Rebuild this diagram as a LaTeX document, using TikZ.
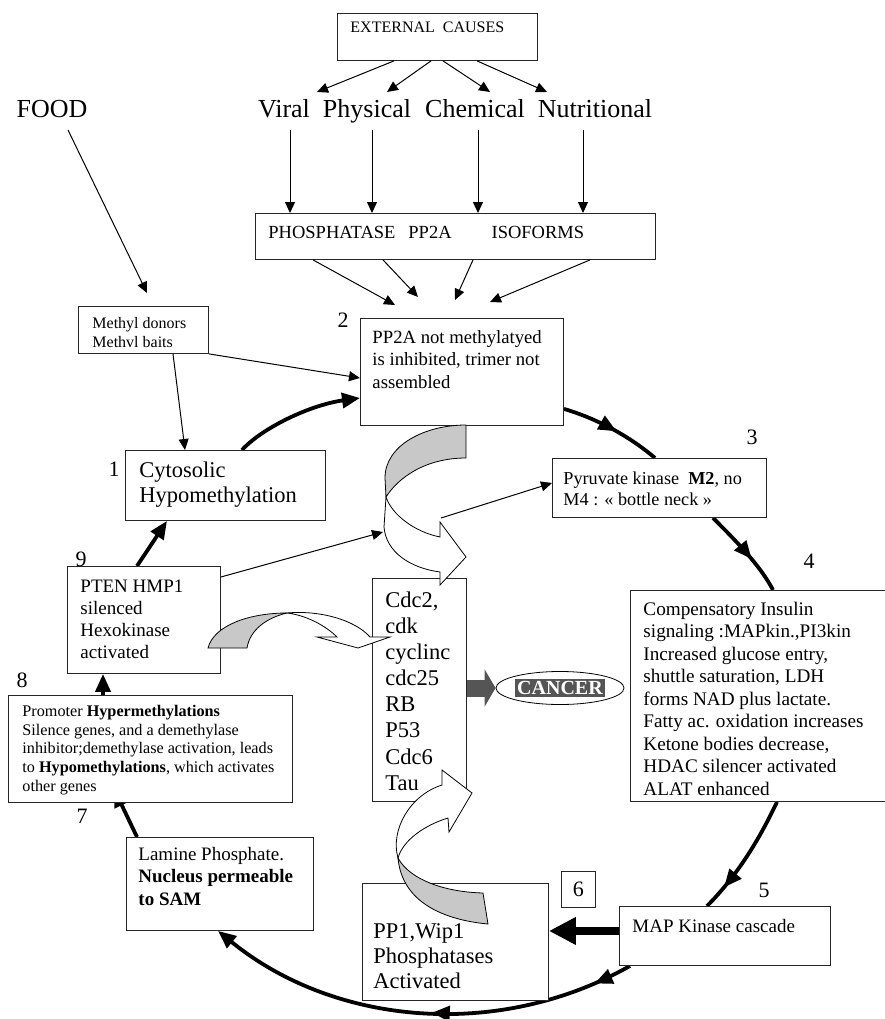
\documentclass[tikz,border=0pt]{standalone}
\usepackage{fontspec}
\setmainfont{Liberation Serif}
\usetikzlibrary{arrows.meta, shapes.geometric, decorations.markings, backgrounds}
\definecolor{ribbongray}{RGB}{200,200,200}
\definecolor{cancergray}{RGB}{85,85,85}
% text block of a box: width, height, first baseline, lines
\newcommand{\celltext}[4]{\parbox[t][#2][t]{#1}{\raggedright\rule{0pt}{#3}#4}}

\begin{document}
\begin{tikzpicture}[x=1pt, y=-1pt,
    box/.style={draw=black!85, line width=0.9pt, fill=white, inner xsep=#1, inner ysep=0pt, anchor=north west},
    box/.default=12pt,
    num/.style={font={\fontsize{22}{22}\selectfont}, inner sep=0pt},
    cause/.style={font={\fontsize{26}{26}\selectfont}, inner sep=0pt, anchor=base},
    thinarr/.style={line width=1pt, -{Triangle[length=11pt,width=10pt]}},
    cyc/.style={line width=3.8pt},
    cycarr/.style={cyc, -{Triangle[length=18pt,width=15pt]}},
    midarr/.style={postaction={decorate, decoration={markings, mark=at position #1 with {\arrow{Triangle[length=18pt,width=15pt]}}}}},
    ribbon/.style={draw=black, line width=0.8pt}]
    \useasboundingbox (0,0) rectangle (884,1019);

    % External causes and the four kinds
    \node[box=13pt, font={\fontsize{16}{18}\selectfont}] (ext) at (337,13) {\celltext{174pt}{47pt}{19pt}{EXTERNAL\ \ CAUSES}};
    \node[cause] (viral) at (284,118) {Viral};
    \node[cause] (physical) at (367,118) {Physical};
    \node[cause] (chemical) at (475,118) {Chemical};
    \node[cause] (nutritional) at (595,118) {Nutritional};
    \node[cause] (food) at (52,118) {FOOD};
    \foreach \sx/\lab/\ex in {57/viral/33, 94/physical/20, 106/chemical/15, 140/nutritional/-48}
        \draw[thinarr] ([xshift=\sx pt]ext.south west) -- ([xshift=\ex pt, yshift=26pt]\lab.base);

    % Phosphatase isoforms
    \node[box=13pt, font={\fontsize{18.5}{20}\selectfont}] (phos) at (255,213) {\celltext{374pt}{46pt}{25pt}{PHOSPHATASE\hspace{13pt}PP2A\hspace{40pt}ISOFORMS}};
    \foreach \lab/\dx/\px in {viral/6/35, physical/5/117, chemical/3/223, nutritional/-12/328}
        \draw[thinarr] ([xshift=\dx pt, yshift=-12pt]\lab.base) -- ([xshift=\px pt]phos.north west);

    % The cycle boxes
    \node[box=12pt, font={\fontsize{18.7}{22.5}\selectfont}] (pp2a) at (360,318) {\celltext{179pt}{107pt}{25pt}{PP2A not methylatyed\\is inhibited, trimer not\\assembled}};
    \node[box=11pt, font={\fontsize{18.2}{21}\selectfont}] (pyr) at (552,458) {\celltext{192pt}{59pt}{26pt}{Pyruvate kinase\ \ \textbf{M2}, no\\M4 : « bottle neck »}};
    \node[box=13pt, font={\fontsize{19.2}{22.5}\selectfont}] (comp) at (630,590) {\celltext{236pt}{211pt}{25pt}{Compensatory Insulin\\signaling :MAPkin.,PI3kin\\Increased glucose entry,\\shuttle saturation, LDH\\forms NAD plus lactate.\\Fatty ac. oxidation increases\\Ketone bodies decrease,\\HDAC silencer activated\\ALAT enhanced}};
    \node[box=13pt, font={\fontsize{19}{22}\selectfont}] (map) at (619,906) {\celltext{185pt}{59pt}{26pt}{MAP Kinase cascade}};
    \node[box=11pt, font={\fontsize{22.5}{25}\selectfont}] (pp1) at (362,883) {\celltext{164pt}{117pt}{55pt}{PP1,Wip1\\Phosphatases\\Activated}};
    \node[box=12pt, font={\fontsize{19}{22.5}\selectfont}] (lamine) at (126,837) {\celltext{163pt}{93pt}{23pt}{Lamine Phosphate.\\\textbf{Nucleus permeable}\\\textbf{to SAM}}};
    \node[box=14pt, font={\fontsize{16.2}{18.7}\selectfont}] (prom) at (8,695) {\celltext{256pt}{107pt}{21pt}{Promoter \textbf{Hypermethylations}\\Silence genes, and a demethylase\\inhibitor;demethylase activation, leads\\to \textbf{Hypomethylations}, which activates\\other genes}};
    \node[box=13pt, font={\fontsize{19}{22}\selectfont}] (pten) at (67,566) {\celltext{127pt}{107pt}{26pt}{PTEN HMP1\\silenced\\Hexokinase\\activated}};
    \node[box=14pt, font={\fontsize{22.5}{25}\selectfont}] (cyto) at (125,450) {\celltext{172pt}{70pt}{27pt}{Cytosolic\\Hypomethylation}};
    \node[box=14pt, font={\fontsize{16}{19}\selectfont}] (methyl) at (78,306) {\celltext{102pt}{47pt}{22pt}{Methyl donors\\Methvl baits}};
    \node[box=13pt, font={\fontsize{22.5}{26.1}\selectfont}] (cdc) at (372,578) {\celltext{68pt}{223pt}{29pt}{Cdc2,\\cdk\\cyclinc\\cdc25\\RB\\P53\\Cdc6\\Tau}};

    % Step numbers
    \node[num] (n1) at (114,469) {1};
    \node[num] (n2) at (343,320) {2};
    \node[num] (n3) at (752,437) {3};
    \node[num] (n4) at (809,561) {4};
    \node[num] (n5) at (764,890) {5};
    \node[draw=black!85, line width=0.9pt, minimum width=34pt, minimum height=36pt, inner sep=0pt, anchor=north west, font={\fontsize{22}{22}\selectfont}] (n6) at (561,871) {6};
    \node[num] (n7) at (82,816) {7};
    \node[num] (n8) at (22,680) {8};
    \node[num] (n9) at (81,559) {9};

    % Cancer
    \node[ellipse, draw, line width=0.8pt, minimum width=117pt, minimum height=33pt, inner sep=0pt, font={\fontsize{20}{20}\selectfont\bfseries}] (cancer) at (560,688) {\setlength{\fboxsep}{2.5pt}\colorbox{cancergray}{\color{white}CANCER}};
    \draw[line width=17pt, cancergray, -{Triangle[length=11pt,width=37pt]}] (cdc.east |- cancer) -- (cancer.west);

    % Thin arrows
    \draw[thinarr] ([xshift=16pt, yshift=-12pt]food.base) -- ([xshift=69pt, yshift=13pt]methyl.north west);
    \draw[thinarr] ([xshift=95pt]methyl.south west) -- ([xshift=60pt]cyto.north west);
    \draw[thinarr] (methyl.south east) -- ([yshift=-60pt]pp2a.north west);
    \foreach \sx/\ex/\ey in {58/35/13, 128/58/21, 218/95/18, 335/130/16}
        \draw[thinarr] ([xshift=\sx pt]phos.south west) -- ([xshift=\ex pt, yshift=\ey pt]pp2a.north west);
    \coordinate (ribA) at (383,532);
    \coordinate (ribAout) at (441,518);
    \draw[thinarr] ([yshift=-11pt]pten.north east) -- (ribA);
    \draw[thinarr] (ribAout) -- ([yshift=-25pt]pyr.north west);

    % Curved ribbons
    \filldraw[ribbon, fill=ribbongray] (466,425) .. controls (425,425) and (385,445) .. (385,478) -- (386,497) .. controls (398,478) and (425,458) .. (466,458) -- cycle;
    \filldraw[ribbon, fill=white] (386,497) -- (384,527) .. controls (386,552) and (410,568) .. (440,572) -- (440,585) -- (466,557) -- (440,522) -- (440,537) .. controls (415,532) and (392,515) .. (386,497) -- cycle;
    \filldraw[ribbon, fill=ribbongray] (208,648) .. controls (214,625) and (250,613) .. (287,613) .. controls (266,618) and (250,630) .. (247,648) -- cycle;
    \filldraw[ribbon, fill=white] (287,613) .. controls (320,610) and (355,620) .. (370,637) -- (390,637) -- (358,648) -- (317,637) -- (337,637) .. controls (325,625) and (305,615) .. (287,613) -- cycle;
    \filldraw[ribbon, fill=ribbongray] (398,858) .. controls (410,880) and (445,892) .. (483,893) -- (488,924) .. controls (445,920) and (402,903) .. (398,858) -- cycle;
    \filldraw[ribbon, fill=white] (398,858) .. controls (390,830) and (410,795) .. (442,785) -- (442,770) -- (472,793) -- (449,832) -- (448,818) .. controls (425,825) and (403,840) .. (398,858) -- cycle;

    % MAP kinase to phosphatases
    \draw[line width=7.5pt, -{Triangle[length=27pt,width=26pt]}] ([yshift=5pt]map.west) -- ([yshift=5pt]map.west -| pp1.east);

    % The cycle
    \begin{scope}[on background layer]
        \draw[cycarr] ([xshift=117pt]cyto.north west) .. controls (262,428) and (310,405) .. ([yshift=-80pt]pp2a.north west);
        \draw[cyc, midarr=0.55] ([yshift=17pt]pp2a.south east) .. controls (595,418) and (628,435) .. ([xshift=103pt]pyr.north west);
        \draw[cyc, midarr=0.6] ([xshift=161pt]pyr.south west) .. controls (735,540) and (760,565) .. ([xshift=143pt]comp.north west);
        \draw[cyc, midarr=0.8] ([xshift=147pt]comp.south west) .. controls (759,840) and (737,876) .. ([xshift=88pt]map.north west);
        \draw[cycarr, midarr=0.09, midarr=0.47] ([xshift=11pt]map.south west) .. controls (499,1040) and (335,1026) .. ([xshift=92pt]lamine.south west);
        \draw[cycarr] ([xshift=11pt]lamine.north west) -- ([xshift=106pt, yshift=14pt]prom.south west);
        \draw[cycarr] ([xshift=95pt]prom.north west) -- ([xshift=36pt]pten.south west);
        \draw[cycarr] ([xshift=70pt]pten.north west) -- ([xshift=42pt]cyto.south west);
    \end{scope}
\end{tikzpicture}
\end{document}
